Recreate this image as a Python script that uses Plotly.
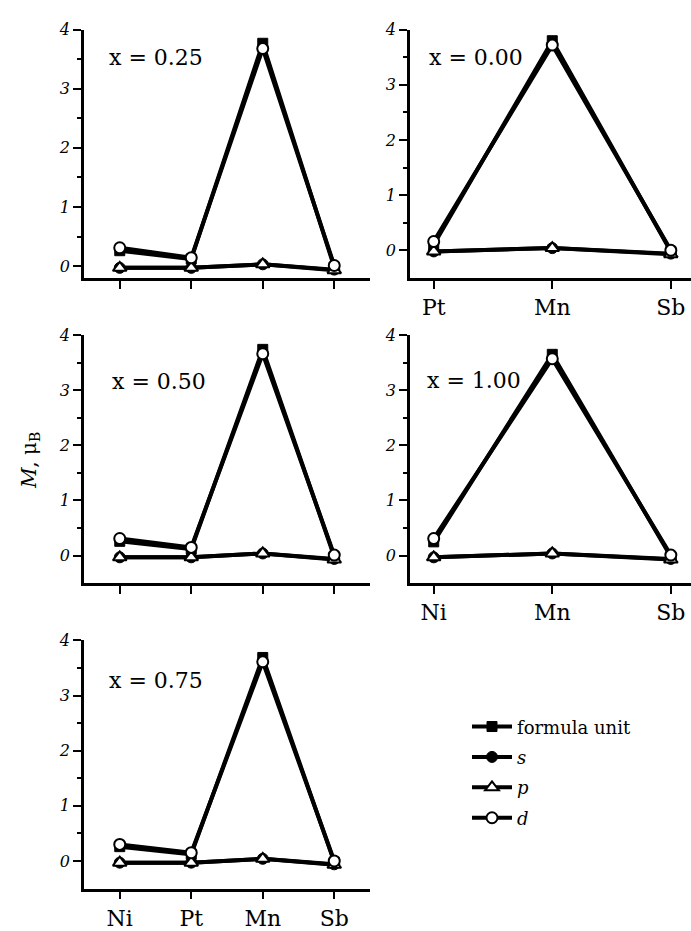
import plotly.graph_objects as go

# ---------------- data ----------------
cats_4 = ["Ni", "Pt", "Mn", "Sb"]
cats_pt = ["Pt", "Mn", "Sb"]
cats_ni = ["Ni", "Mn", "Sb"]

# x = 0.25
fu_025 = [0.26, 0.12, 3.77, -0.02]
s_025 = [-0.03, -0.03, 0.03, -0.06]
p_025 = [-0.03, -0.03, 0.03, -0.07]
d_025 = [0.31, 0.14, 3.68, 0.01]

# x = 0.00
fu_000 = [0.10, 3.80, -0.02]
s_000 = [-0.02, 0.04, -0.06]
p_000 = [-0.02, 0.04, -0.07]
d_000 = [0.16, 3.72, 0.00]

# x = 0.50
fu_050 = [0.26, 0.12, 3.74, -0.02]
s_050 = [-0.03, -0.03, 0.04, -0.06]
p_050 = [-0.03, -0.03, 0.04, -0.07]
d_050 = [0.31, 0.15, 3.66, 0.01]

# x = 1.00
fu_100 = [0.25, 3.65, -0.02]
s_100 = [-0.03, 0.04, -0.06]
p_100 = [-0.03, 0.04, -0.07]
d_100 = [0.31, 3.57, 0.01]

# x = 0.75
fu_075 = [0.26, 0.12, 3.69, -0.02]
s_075 = [-0.03, -0.03, 0.04, -0.06]
p_075 = [-0.03, -0.03, 0.04, -0.07]
d_075 = [0.30, 0.15, 3.61, 0.00]

panel_labels = ["x = 0.25", "x = 0.00", "x = 0.50", "x = 1.00", "x = 0.75"]
series_names = ["formula unit", "<i>s</i>", "<i>p</i>", "<i>d</i>"]

panels = [
    (cats_4, [fu_025, s_025, p_025, d_025]),
    (cats_pt, [fu_000, s_000, p_000, d_000]),
    (cats_4, [fu_050, s_050, p_050, d_050]),
    (cats_ni, [fu_100, s_100, p_100, d_100]),
    (cats_4, [fu_075, s_075, p_075, d_075]),
]

# ---------------- layout geometry ----------------
W, H = 691, 931
FONT = "DejaVu Serif"

def px_x(a, b):
    return [a / W, b / W]

def px_y(top, bottom):
    return [1 - bottom / H, 1 - top / H]

left_dom = px_x(84, 370)
right_dom = [410 / W, 1.0]
rows = [px_y(21, 273), px_y(331, 583), px_y(641, 893)]

axes_def = [
    (left_dom, rows[0], [-0.5, 3.5], [-0.2, 4.0], False),
    (right_dom, rows[0], [-0.2, 2.17], [-0.5, 4.0], True),
    (left_dom, rows[1], [-0.5, 3.5], [-0.5, 4.0], False),
    (right_dom, rows[1], [-0.2, 2.17], [-0.5, 4.0], True),
    (left_dom, rows[2], [-0.5, 3.5], [-0.5, 4.0], True),
]

styles = [
    dict(symbol="square", size=10, color="black", line=dict(color="black", width=1)),
    dict(symbol="circle", size=11, color="black", line=dict(color="black", width=1)),
    dict(symbol="triangle-up", size=12, color="white", line=dict(color="black", width=2)),
    dict(symbol="circle", size=11, color="white", line=dict(color="black", width=2)),
]

fig = go.Figure()

for i, (cats, series) in enumerate(panels):
    xa = "x" if i == 0 else f"x{i+1}"
    ya = "y" if i == 0 else f"y{i+1}"
    for k in range(4):
        fig.add_trace(go.Scatter(
            x=cats, y=series[k], xaxis=xa, yaxis=ya,
            mode="lines+markers",
            name=series_names[k],
            legendgroup=f"g{k}",
            showlegend=(i == 0),
            line=dict(color="black", width=4),
            marker=styles[k],
            cliponaxis=False,
        ))

layout = dict(
    width=W, height=H,
    margin=dict(l=0, r=0, t=0, b=0),
    paper_bgcolor="white", plot_bgcolor="white",
    font=dict(family=FONT, color="black"),
    showlegend=True,
    legend=dict(
        x=467 / W, y=1 - 710 / H, xanchor="left", yanchor="top",
        font=dict(family=FONT, size=18, color="black"),
        bgcolor="rgba(0,0,0,0)", tracegroupgap=4,
        itemwidth=40,
    ),
)

for i, (xd, yd, xr, yr, show_xlabels) in enumerate(axes_def):
    cats = panels[i][0]
    xkey = "xaxis" if i == 0 else f"xaxis{i+1}"
    ykey = "yaxis" if i == 0 else f"yaxis{i+1}"
    yanchor_name = "y" if i == 0 else f"y{i+1}"
    xanchor_name = "x" if i == 0 else f"x{i+1}"
    layout[xkey] = dict(
        domain=xd, anchor=yanchor_name, type="category",
        categoryorder="array", categoryarray=cats,
        range=xr, showgrid=False, zeroline=False,
        showline=True, linecolor="black", linewidth=2.5,
        ticks="outside", ticklen=8, tickwidth=2, tickcolor="black",
        showticklabels=show_xlabels,
        tickfont=dict(family=FONT, size=22, color="black"),
        fixedrange=True,
    )
    layout[ykey] = dict(
        domain=yd, anchor=xanchor_name,
        range=yr, showgrid=False, zeroline=False,
        showline=True, linecolor="black", linewidth=2.5,
        tickvals=[0, 1, 2, 3, 4],
        ticks="outside", ticklen=8, tickwidth=2, tickcolor="black",
        minor=dict(tickvals=[0.5, 1.5, 2.5, 3.5], ticks="outside", ticklen=4,
                   tickwidth=1.5, tickcolor="black"),
        tickfont=dict(family=FONT, size=16, color="black", style="italic"),
        fixedrange=True,
    )

fig.update_layout(**layout)

label_pos = [(107, 49), (427, 49), (110, 378), (425, 377), (107, 682)]
for txt, (lx, ly) in zip(panel_labels, label_pos):
    fig.add_annotation(
        text=txt, xref="paper", yref="paper",
        x=lx / W, y=1 - ly / H, xanchor="left", yanchor="middle",
        showarrow=False, font=dict(family=FONT, size=22, color="black"),
    )

fig.add_annotation(
    text="<i>M</i>, μ<sub>B</sub>", xref="paper", yref="paper",
    x=30 / W, y=1 - 458 / H, xanchor="center", yanchor="middle",
    textangle=-90, showarrow=False,
    font=dict(family=FONT, size=20, color="black"),
)

fig.write_html("out.html")
